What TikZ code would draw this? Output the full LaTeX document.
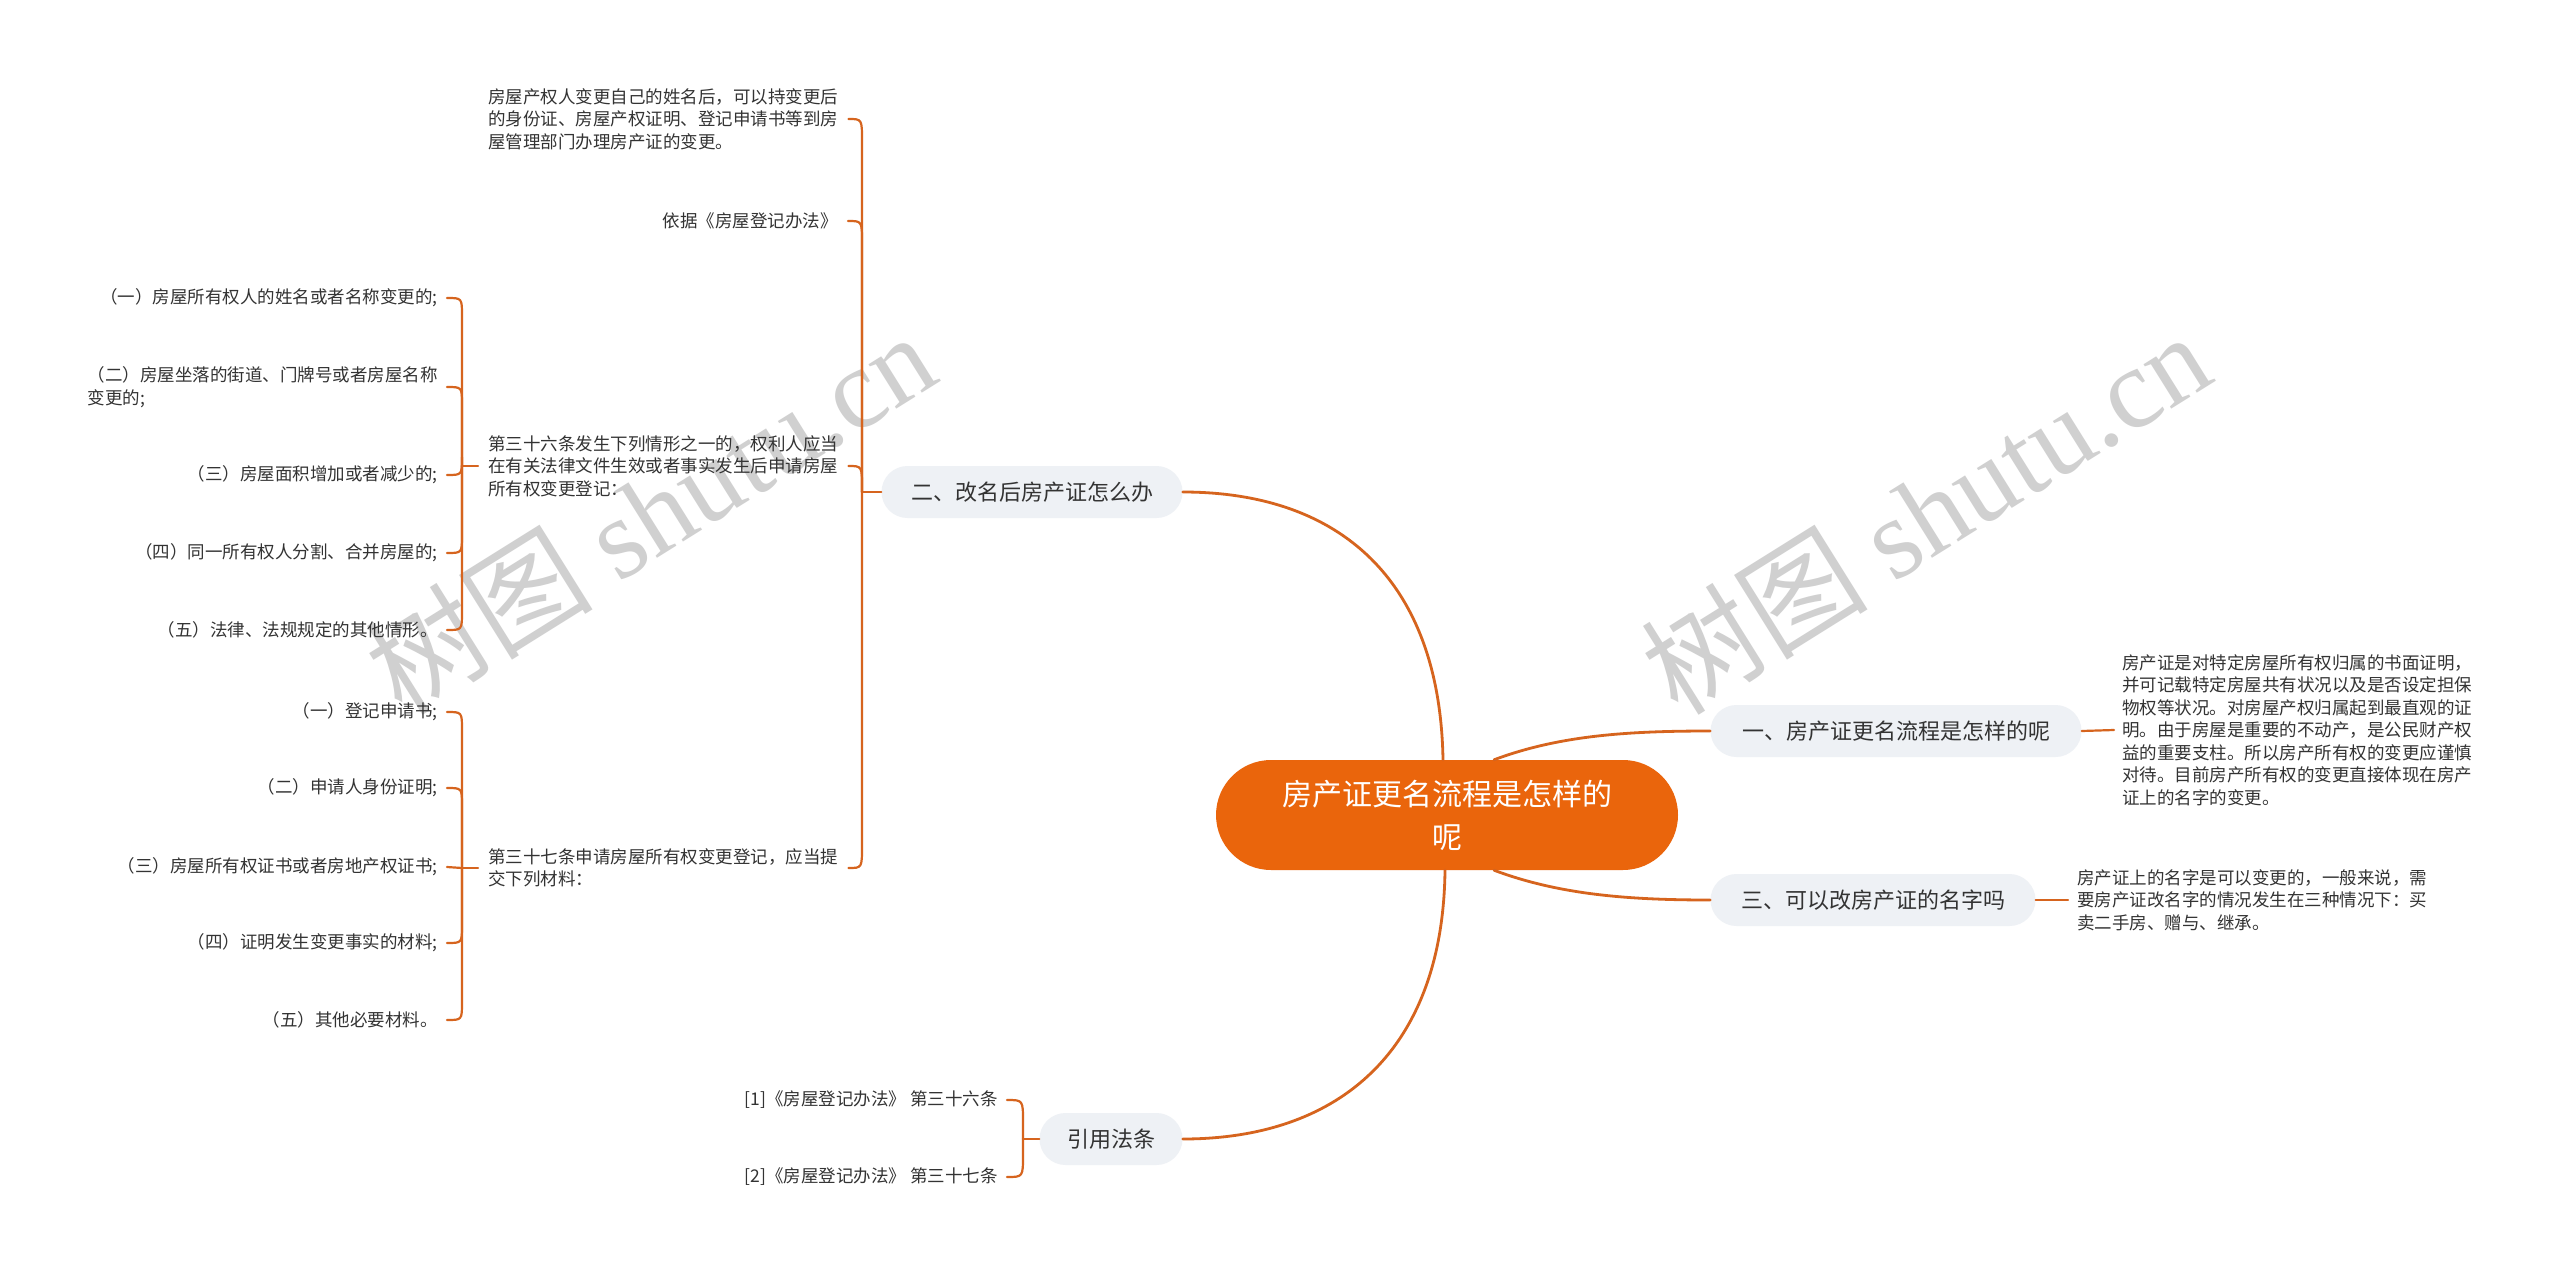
\documentclass[tikz,border=0pt]{standalone}
\usepackage{fontspec}
\setmainfont{Noto Sans CJK SC}
\newfontfamily\wmlatin{Liberation Serif}
\usetikzlibrary{calc}
\definecolor{conn}{RGB}{214,100,30}
\definecolor{rootfill}{RGB}{234,101,12}
\definecolor{boxfill}{RGB}{238,241,245}
\definecolor{txt}{RGB}{51,51,51}
\definecolor{wm}{RGB}{208,208,208}
\tikzset{
 lk/.style={draw=conn, line width=2.2pt, line cap=round},
 mk/.style={draw=conn, line width=2.8pt, line cap=round},
 leaf/.style={inner sep=0pt, text=txt, font=\fontsize{17.5}{22.5}\selectfont, align=left},
 branch/.style={fill=boxfill, rounded corners=26pt, minimum height=52pt, inner xsep=0pt, inner ysep=0pt, text=txt, font=\fontsize{22}{26}\selectfont},
 rootbox/.style={fill=rootfill, rounded corners=55pt, minimum height=110pt, minimum width=462pt, text=white, align=center, font=\fontsize{30}{43}\selectfont, inner sep=0pt},
 wmark/.style={text=wm, font=\fontsize{114}{120}\selectfont, rotate=32, inner sep=0pt}
}
\begin{document}
\begin{tikzpicture}[x=1pt,y=-1pt]
\useasboundingbox (0,0) rectangle (2560,1274);
\fill[white] (0,0) rectangle (2560,1274);
% watermarks
\node[wmark] (wm1) at (650,512) {树图 {\wmlatin shutu.cn}};
\node[wmark] (wm2) at (1925,512) {树图 {\wmlatin shutu.cn}};
% root and branches
\node[rootbox] (root) at (1447,815) {房产证更名流程是怎样的\\呢};
\node[branch, minimum width=301pt] (b2) at (1032,492) {二、改名后房产证怎么办};
\node[branch, minimum width=371pt] (b1) at (1896,731) {一、房产证更名流程是怎样的呢};
\node[branch, minimum width=325pt] (b3) at (1873,900) {三、可以改房产证的名字吗};
\node[branch, minimum width=143pt] (cite) at (1111,1139) {引用法条};
% children of b2
\node[leaf, anchor=west] (L1) at (488,119) {房屋产权人变更自己的姓名后，可以持变更后\\的身份证、房屋产权证明、登记申请书等到房\\屋管理部门办理房产证的变更。};
\node[leaf, anchor=east] (L2) at (838,221) {依据《房屋登记办法》};
\node[leaf, anchor=west] (L3) at (488,466) {第三十六条发生下列情形之一的，权利人应当\\在有关法律文件生效或者事实发生后申请房屋\\所有权变更登记：};
\node[leaf, anchor=west] (L4) at (488,868) {第三十七条申请房屋所有权变更登记，应当提\\交下列材料：};
% children of L3
\node[leaf, anchor=east] (a1) at (438,298) {（一）房屋所有权人的姓名或者名称变更的;};
\node[leaf, anchor=east] (a2) at (438,387) {（二）房屋坐落的街道、门牌号或者房屋名称\\变更的;};
\node[leaf, anchor=east] (a3) at (438,475) {（三）房屋面积增加或者减少的;};
\node[leaf, anchor=east] (a4) at (438,553) {（四）同一所有权人分割、合并房屋的;};
\node[leaf, anchor=east] (a5) at (438,630) {（五）法律、法规规定的其他情形。};
% children of L4
\node[leaf, anchor=east] (c1) at (438,712) {（一）登记申请书;};
\node[leaf, anchor=east] (c2) at (438,788) {（二）申请人身份证明;};
\node[leaf, anchor=east] (c3) at (438,867) {（三）房屋所有权证书或者房地产权证书;};
\node[leaf, anchor=east] (c4) at (438,943) {（四）证明发生变更事实的材料;};
\node[leaf, anchor=east] (c5) at (438,1020) {（五）其他必要材料。};
% citations
\node[leaf, anchor=east] (r1) at (998,1100) {[1]《房屋登记办法》 第三十六条};
\node[leaf, anchor=east] (r2) at (998,1177) {[2]《房屋登记办法》 第三十七条};
% right leaves
\node[leaf, anchor=west] (R1) at (2122,730) {房产证是对特定房屋所有权归属的书面证明，\\并可记载特定房屋共有状况以及是否设定担保\\物权等状况。对房屋产权归属起到最直观的证\\明。由于房屋是重要的不动产，是公民财产权\\益的重要支柱。所以房产所有权的变更应谨慎\\对待。目前房产所有权的变更直接体现在房产\\证上的名字的变更。};
\node[leaf, anchor=west] (R3) at (2077,900) {房产证上的名字是可以变更的，一般来说，需\\要房产证改名字的情况发生在三种情况下：买\\卖二手房、赠与、继承。};

% main connectors
\draw[mk] ([xshift=-4pt]root.north) .. controls (1440,580) and (1340,492) .. (b2.east);
\draw[mk] ([xshift=-2pt]root.south) .. controls (1443,1050) and (1340,1139) .. (cite.east);
\draw[mk] ([xshift=47pt]root.north) .. controls (1560,735) and (1630,731) .. (b1.west);
\draw[mk] ([xshift=47pt]root.south) .. controls (1560,895) and (1630,900) .. (b3.west);
% right leaf connectors
\draw[lk] (b1.east) -- ([xshift=-8pt]R1.west);
\draw[lk] (b3.east) -- ([xshift=-9pt]R3.west);

% b2 bracket
\coordinate (t2) at (862,492);
\draw[lk] (b2.west) -- (t2);
\foreach \n/\s in {L1/1,L2/1,L3/1} {
  \draw[lk] (t2) -- ($(t2 |- \n.east)+(0,22*\s)$) .. controls (t2 |- \n.east) .. ($(\n.east)+(10,0)$);
}
\draw[lk] (t2) -- ($(t2 |- L4.east)+(0,-22)$) .. controls (t2 |- L4.east) .. ($(L4.east)+(10,0)$);

% L3 bracket
\coordinate (t3) at (462,466);
\draw[lk] ($(L3.west)+(-10,0)$) -- (t3);
\foreach \n/\s in {a1/1,a2/1,a3/-1,a4/-1,a5/-1} {
  \draw[lk] (t3) -- ($(t3 |- \n.east)+(0,18*\s)$) .. controls (t3 |- \n.east) .. ($(\n.east)+(9,0)$);
}
% L4 bracket
\coordinate (t4) at (462,868);
\draw[lk] ($(L4.west)+(-10,0)$) -- (t4);
\foreach \n/\s in {c1/1,c2/1,c4/-1,c5/-1} {
  \draw[lk] (t4) -- ($(t4 |- \n.east)+(0,18*\s)$) .. controls (t4 |- \n.east) .. ($(\n.east)+(9,0)$);
}
\draw[lk] (t4) -- ($(c3.east)+(9,0)$);
% citation bracket
\coordinate (tc) at (1023,1139);
\draw[lk] (cite.west) -- (tc);
\draw[lk] (tc) -- ($(tc |- r1.east)+(0,22)$) .. controls (tc |- r1.east) .. ($(r1.east)+(9,0)$);
\draw[lk] (tc) -- ($(tc |- r2.east)+(0,-22)$) .. controls (tc |- r2.east) .. ($(r2.east)+(9,0)$);
\end{tikzpicture}
\end{document}
